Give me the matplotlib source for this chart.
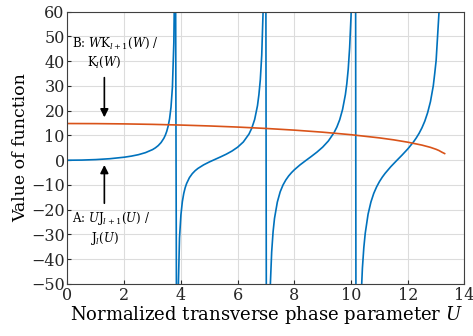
import numpy as np
import matplotlib.pyplot as plt

plt.rcParams['font.family'] = ['DejaVu Serif']
plt.rcParams['mathtext.fontset'] = 'dejavuserif'

# curve A: U*J_{l+1}(U)/J_l(U)
u_a = [0.0, 0.5, 1.0, 1.5, 2.0, 2.25, 2.5, 2.75, 3.0, 3.1, 3.2, 3.3, 3.4, 3.45, 3.5,
       3.55, 3.6, 3.65, 3.7, 3.75, 3.78, 3.8, 3.86, 3.88, 3.9, 3.95, 4.0, 4.05, 4.1,
       4.15, 4.2, 4.3, 4.4, 4.5, 4.6, 4.8, 5.0, 5.2, 5.4, 5.6, 5.8, 6.0, 6.2, 6.4,
       6.5, 6.6, 6.7, 6.75, 6.8, 6.85, 6.9, 6.95, 6.98, 7.04, 7.06, 7.1, 7.15, 7.2,
       7.25, 7.3, 7.4, 7.5, 7.6, 7.7, 7.8, 7.9, 8.0, 8.2, 8.4, 8.6, 8.8, 9.0, 9.2,
       9.4, 9.5, 9.6, 9.7, 9.8, 9.85, 9.9, 9.95, 10.0, 10.05, 10.1, 10.14, 10.2,
       10.22, 10.25, 10.3, 10.35, 10.4, 10.45, 10.5, 10.6, 10.7, 10.8, 10.9, 11.0,
       11.1, 11.2, 11.4, 11.6, 11.8, 12.0, 12.2, 12.3, 12.4, 12.5, 12.6, 12.7, 12.8,
       12.9, 12.95, 13.0, 13.1, 13.15, 13.2]
val_a = [0.0, 0.06, 0.26, 0.62, 1.22, 1.66, 2.24, 3.07, 4.3, 5.01, 5.92, 7.15, 8.91,
         10.12, 11.68, 13.8, 16.77, 21.4, 29.5, 47.5, 75.1, 121.9, -134.4, -78.3,
         -55.1, -31.4, -22.07, -16.75, -13.4, -11.1, -9.41, -7.03, -5.43, -4.24, -3.31,
         -1.87, -0.71, 0.33, 1.36, 2.45, 3.71, 5.27, 7.37, 10.57, 12.99, 16.47, 22.04,
         26.5, 32.57, 42.5, 61.0, 107.0, 198.0, -286.0, -157.0, -82.1, -51.2, -37.1,
         -28.9, -23.5, -16.9, -12.77, -10.0, -7.96, -6.34, -5.01, -3.86, -1.88, -0.15,
         1.54, 3.31, 5.31, 7.79, 11.15, 13.42, 16.38, 20.5, 26.53, 30.9, 36.8, 45.5,
         58.5, 83.4, 139.0, 304.7, -383.0, -217.8, -132.0, -79.4, -56.6, -43.6, -35.3,
         -29.5, -21.8, -16.9, -13.4, -10.78, -8.65, -6.86, -5.31, -2.62, -0.23, 2.1,
         4.56, 7.38, 9.02, 10.89, 13.1, 15.78, 19.2, 23.68, 30.1, 35.0, 40.3, 59.5,
         77.0, 108.0]

# curve B: W*K_{l+1}(W)/K_l(W)
u_b = [0.0, 1.0, 2.0, 3.0, 4.0, 5.0, 6.0, 7.0, 8.0, 9.0, 10.0, 11.0, 11.5, 12.0,
       12.5, 12.8, 13.0, 13.1, 13.2, 13.3]
val_b = [14.83, 14.79, 14.68, 14.49, 14.21, 13.85, 13.4, 12.84, 12.16, 11.33, 10.31,
         9.03, 8.24, 7.29, 6.11, 5.2, 4.41, 3.92, 3.27, 2.7]

fig = plt.figure(figsize=(4.73, 3.36), dpi=100)
ax = fig.add_axes([0.1427, 0.1548, 0.8393, 0.8103])

ax.plot(u_a, val_a, color='#0072BD', lw=1.2)
ax.plot(u_b, val_b, color='#D95319', lw=1.2)

ax.set_xlim(0, 14)
ax.set_ylim(-50, 60)
ax.set_xticks(np.arange(0, 15, 2))
ax.set_yticks(np.arange(-50, 61, 10))
ax.grid(True, color='#dcdcdc', lw=0.8)
ax.set_axisbelow(True)
ax.tick_params(direction='in', length=3, labelsize=11.5, colors='#262626', pad=2)
for s in ax.spines.values():
    s.set_color('#404040')
    s.set_linewidth(0.8)

ax.set_xlabel('Normalized transverse phase parameter $U$', fontsize=13, labelpad=0)
ax.set_ylabel('Value of function', fontsize=12.5, labelpad=1)

ax.text(0.15, 47.3, 'B: $W$K$_{l+1}$($W$) /', fontsize=8.5, va='center', ha='left')
ax.text(1.3, 39.6, 'K$_l$($W$)', fontsize=8.5, va='center', ha='center')
ax.text(0.15, -23.5, 'A: $U$J$_{l+1}$($U$) /', fontsize=8.5, va='center', ha='left')
ax.text(1.3, -31.5, 'J$_l$($U$)', fontsize=8.5, va='center', ha='center')
ax.annotate('', xy=(1.3, 16.2), xytext=(1.3, 34.5),
            arrowprops=dict(arrowstyle='-|>', color='black', lw=1.2, mutation_scale=12))
ax.annotate('', xy=(1.3, -0.8), xytext=(1.3, -18.5),
            arrowprops=dict(arrowstyle='-|>', color='black', lw=1.2, mutation_scale=12))

fig.savefig('out.png', dpi=100)
